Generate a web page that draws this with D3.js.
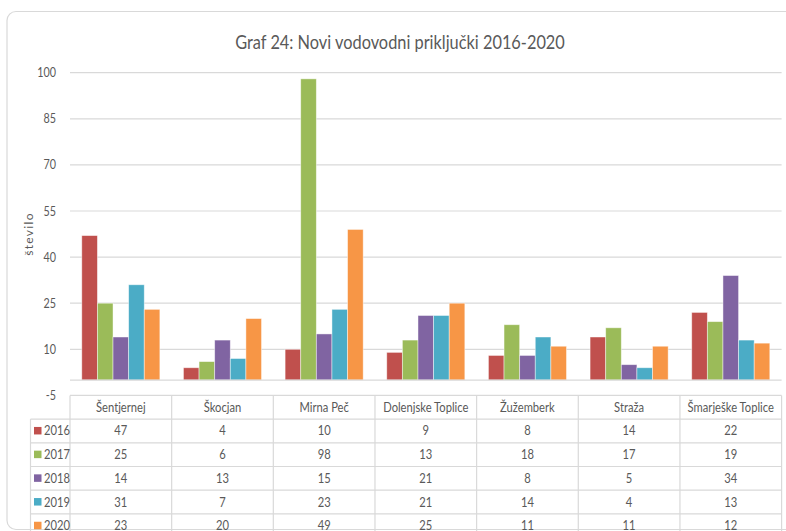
<!DOCTYPE html>
<html><head><meta charset="utf-8">
<script src="https://cdn.jsdelivr.net/npm/d3@7"></script>
<style>
html,body{margin:0;padding:0;background:#fff;overflow:hidden}
text{font-family:Lato,"Open Sans","Liberation Sans",sans-serif;fill:#595959}
</style></head>
<body>
<svg id="chart" width="786" height="531"></svg>
<script>
const title = "Graf 24: Novi vodovodni priključki 2016-2020";
const yAxisTitle = "število";
const categories = ["Šentjernej","Škocjan","Mirna Peč","Dolenjske Toplice","Žužemberk","Straža","Šmarješke Toplice"];
const years = ["2016","2017","2018","2019","2020"];
const colors = ["#C0504D","#9BBB59","#8064A2","#4BACC6","#F79646"];
const v2016 = [47,4,10,9,8,14,22];
const v2017 = [25,6,98,13,18,17,19];
const v2018 = [14,13,15,21,8,5,34];
const v2019 = [31,7,23,21,14,4,13];
const v2020 = [23,20,49,25,11,11,12];
const yTicks = [-5,10,25,40,55,70,85,100];

const series = [v2016,v2017,v2018,v2019,v2020].map((vals,i)=>({year:years[i],color:colors[i],vals}));

const svg = d3.select("#chart");
const plotL = 70, plotR = 781.6, plotT = 72.7, plotB = 395.4;
const grid = "#D9D9D9";

svg.append("rect").attr("x",7).attr("y",11.5).attr("width",820).attr("height",518)
  .attr("rx",9).attr("fill","#fff").attr("stroke","#D9D9D9").attr("stroke-width",1.2);

svg.append("text").attr("class","sq").attr("x",400).attr("y",49).attr("text-anchor","middle")
  .style("font-size","19px").text(title);

const x0 = d3.scaleBand().domain(categories).range([plotL,plotR]).padding(0);
const bw = x0.bandwidth();
const gap = bw*0.116;
const x1 = d3.scaleBand().domain(years).range([gap, bw-gap]).padding(0);
const y = d3.scaleLinear().domain([-5,100]).range([plotB,plotT]);

svg.append("g").selectAll("line").data(yTicks.filter(t=>t>-5)).join("line")
  .attr("x1",plotL).attr("x2",plotR).attr("y1",d=>y(d)).attr("y2",d=>y(d))
  .attr("stroke",grid).attr("stroke-width",1.2);

const yAxis = d3.axisLeft(y).tickValues(yTicks).tickSize(0).tickPadding(0).tickFormat(d=>String(d));
const ga = svg.append("g").attr("transform",`translate(56,0)`).call(yAxis);
ga.select(".domain").remove();
ga.selectAll("text").attr("class","sq").style("font-size","12.5px").style("font-family",null).attr("fill","#595959");

svg.append("text").attr("transform",`translate(33,234) rotate(-90)`).attr("text-anchor","middle")
  .style("font-size","12px").style("letter-spacing","1.3px").text(yAxisTitle);

const groups = svg.append("g").selectAll("g").data(series).join("g").attr("fill",d=>d.color);
groups.selectAll("rect").data(d=>d.vals.map((v,i)=>({v,cat:categories[i],year:d.year}))).join("rect")
  .attr("x",d=>x0(d.cat)+x1(d.year)).attr("width",x1.bandwidth())
  .attr("y",d=>y(d.v)).attr("height",d=>y(0)-y(d.v))
  .attr("stroke","#fff").attr("stroke-opacity",0.55).attr("stroke-width",0.8);

svg.append("line").attr("x1",plotL).attr("x2",plotR).attr("y1",y(0)).attr("y2",y(0))
  .attr("stroke",grid).attr("stroke-width",1.2);

const rowH = 23.7;
const tTop = plotB;
const legL = 30.5;
const tbl = svg.append("g");
const lineC = "#D9D9D9";
tbl.append("line").attr("x1",plotL).attr("x2",plotR).attr("y1",tTop).attr("y2",tTop).attr("stroke",lineC).attr("stroke-width",1.2);
for(let r=1;r<=6;r++){
  tbl.append("line").attr("x1",legL).attr("x2",plotR).attr("y1",tTop+r*rowH).attr("y2",tTop+r*rowH).attr("stroke",lineC).attr("stroke-width",1.2);
}
const vx = categories.map(c=>x0(c)).concat([plotR]);
vx.forEach(xx=>{
  tbl.append("line").attr("x1",xx).attr("x2",xx).attr("y1",tTop).attr("y2",tTop+6*rowH).attr("stroke",lineC).attr("stroke-width",1.2);
});
tbl.append("line").attr("x1",legL).attr("x2",legL).attr("y1",tTop+rowH).attr("y2",tTop+6*rowH).attr("stroke",lineC).attr("stroke-width",1.2);

tbl.selectAll("text.hdr").data(categories).join("text").attr("class","hdr sq")
  .attr("x",d=>x0(d)+bw/2).attr("y",tTop+rowH/2+4.5).attr("text-anchor","middle")
  .style("font-size","13px").text(d=>d);

series.forEach((s,r)=>{
  const cy = tTop+(r+1)*rowH+rowH/2;
  tbl.append("rect").attr("x",34).attr("y",cy-4).attr("width",7.5).attr("height",7.5).attr("fill",s.color);
  tbl.append("text").attr("class","sq").attr("x",44).attr("y",cy+4.5).style("font-size","13px").text(s.year);
  tbl.selectAll(null).data(s.vals).join("text").attr("class","sq")
    .attr("x",(d,i)=>x0(categories[i])+bw/2).attr("y",cy+4.5).attr("text-anchor","middle")
    .style("font-size","13px").text(d=>d);
});

// horizontally condense text to mimic the narrow original typeface
svg.selectAll("text.sq").each(function(){
  const w = this.getComputedTextLength();
  d3.select(this).attr("textLength", w*0.86).attr("lengthAdjust","spacingAndGlyphs");
});
</script>
</body></html>
